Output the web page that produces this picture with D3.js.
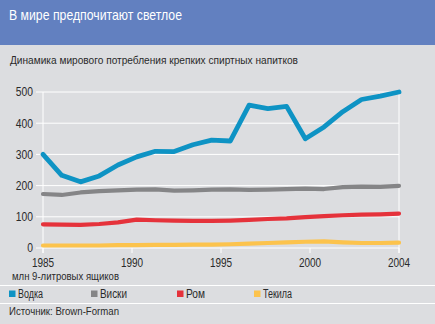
<!DOCTYPE html>
<html><head><meta charset="utf-8">
<script src="https://cdn.jsdelivr.net/npm/d3@7"></script>
<style>
html,body{margin:0;padding:0;background:#dcdde0;}
svg{display:block;font-family:"Liberation Sans",Arial,sans-serif;}
</style></head><body>
<div id="chart"></div>
<script>
const years = d3.range(1985, 2005);
const xTickLabels = ["1985", "1990", "1995", "2000", "2004"];
const yTicks = [0, 100, 200, 300, 400, 500];
const vodka   = [300, 233, 212, 231, 266, 292, 310, 309, 331, 346, 343, 458, 447, 454, 350, 388, 437, 476, 487, 500];
const whisky  = [173, 170, 178, 182, 185, 187, 188, 184, 185, 187, 188, 186, 187, 189, 190, 189, 195, 197, 196, 199];
const rum     = [76, 75, 74, 77, 82, 91, 89, 88, 87, 87, 88, 90, 93, 95, 99, 102, 105, 107, 108, 110];
const tequila = [8, 8, 8, 8, 9, 9, 10, 10, 11, 11, 12, 14, 16, 18, 20, 21, 18, 16, 16, 17];
const seriesNames = ["Водка", "Виски", "Ром", "Текила"];
const seriesColors = ["#0e93c4", "#858587", "#e5323b", "#fcc34d"];
const seriesData = [vodka, whisky, rum, tequila];

const W = 435, H = 324;
const svg = d3.select("#chart").append("svg").attr("width", W).attr("height", H);
svg.append("rect").attr("width", W).attr("height", H).attr("fill", "#dcdde0");
svg.append("rect").attr("width", W).attr("height", 45).attr("fill", "#6280c0");

function label(sel, x0, y0, txt, size, len, fill) {
  return sel.append("text").attr("x", x0).attr("y", y0).attr("fill", fill || "#2a2a2a")
    .attr("font-size", size).attr("textLength", len).attr("lengthAdjust", "spacingAndGlyphs").text(txt);
}
label(svg, 9, 20, "В мире предпочитают светлое", 15, 173, "#fff");
label(svg, 10, 64, "Динамика мирового потребления крепких спиртных напитков", 11.5, 288);

const x = d3.scalePoint().domain(years).range([43, 399]);
const xl = d3.scalePoint().domain(xTickLabels).range([43, 399]);
const y = d3.scaleLinear().domain([0, 500]).range([248, 92]);

const g = svg.append("g");
g.selectAll(".grid").data(yTicks).join("line")
  .attr("x1", 36).attr("x2", 399).attr("y1", d => y(d)).attr("y2", d => y(d))
  .attr("stroke", "#fff").attr("stroke-width", 1);
g.selectAll(".vl").data([43, 399]).join("line")
  .attr("x1", d => d).attr("x2", d => d).attr("y1", y(500)).attr("y2", 253)
  .attr("stroke", "#fff").attr("stroke-width", 1);
g.selectAll(".xt").data(xTickLabels).join("line")
  .attr("x1", d => xl(d)).attr("x2", d => xl(d)).attr("y1", y(0)).attr("y2", 253)
  .attr("stroke", "#fff").attr("stroke-width", 1);
g.selectAll(".yl").data(yTicks).join("text")
  .attr("transform", d => `translate(33,${y(d) + 4.3}) scale(0.86,1)`).attr("text-anchor", "end")
  .attr("fill", "#2a2a2a").attr("font-size", 12).text(d => d);
g.selectAll(".xl").data(xTickLabels).join("text")
  .attr("transform", d => `translate(${xl(d)},266.5) scale(0.8,1)`).attr("text-anchor", "middle")
  .attr("fill", "#2a2a2a").attr("font-size", 12.5).text(d => d);

const line = d3.line().x((d, i) => x(years[i])).y(d => y(d));
[3, 2, 1, 0].forEach(k => {
  g.append("path").attr("d", line(seriesData[k])).attr("fill", "none")
    .attr("stroke", seriesColors[k]).attr("stroke-width", k === 0 ? 4.8 : 4.2)
    .attr("stroke-linejoin", "round").attr("stroke-linecap", "round");
});

label(svg, 12, 280, "млн 9-литровых ящиков", 11, 107);
svg.append("line").attr("x1", 0).attr("x2", W).attr("y1", 285.5).attr("y2", 285.5).attr("stroke", "#fff");
svg.append("line").attr("x1", 0).attr("x2", W).attr("y1", 303.5).attr("y2", 303.5).attr("stroke", "#fff");

const legX = [9, 91, 177, 254];
const legLen = [25, 27, 19, 29];
const lg = svg.selectAll(".lg").data(seriesNames).join("g")
  .attr("transform", (d, i) => `translate(${legX[i]},0)`);
lg.append("rect").attr("x", 0).attr("y", 290.5).attr("width", 6.5).attr("height", 6.5)
  .attr("fill", (d, i) => seriesColors[i]);
lg.append("text").attr("x", 9).attr("y", 298).attr("fill", "#2a2a2a").attr("font-size", 12)
  .attr("textLength", (d, i) => legLen[i]).attr("lengthAdjust", "spacingAndGlyphs").text(d => d);

label(svg, 9, 315, "Источник: Brown-Forman", 11.5, 110);
</script>
</body></html>
